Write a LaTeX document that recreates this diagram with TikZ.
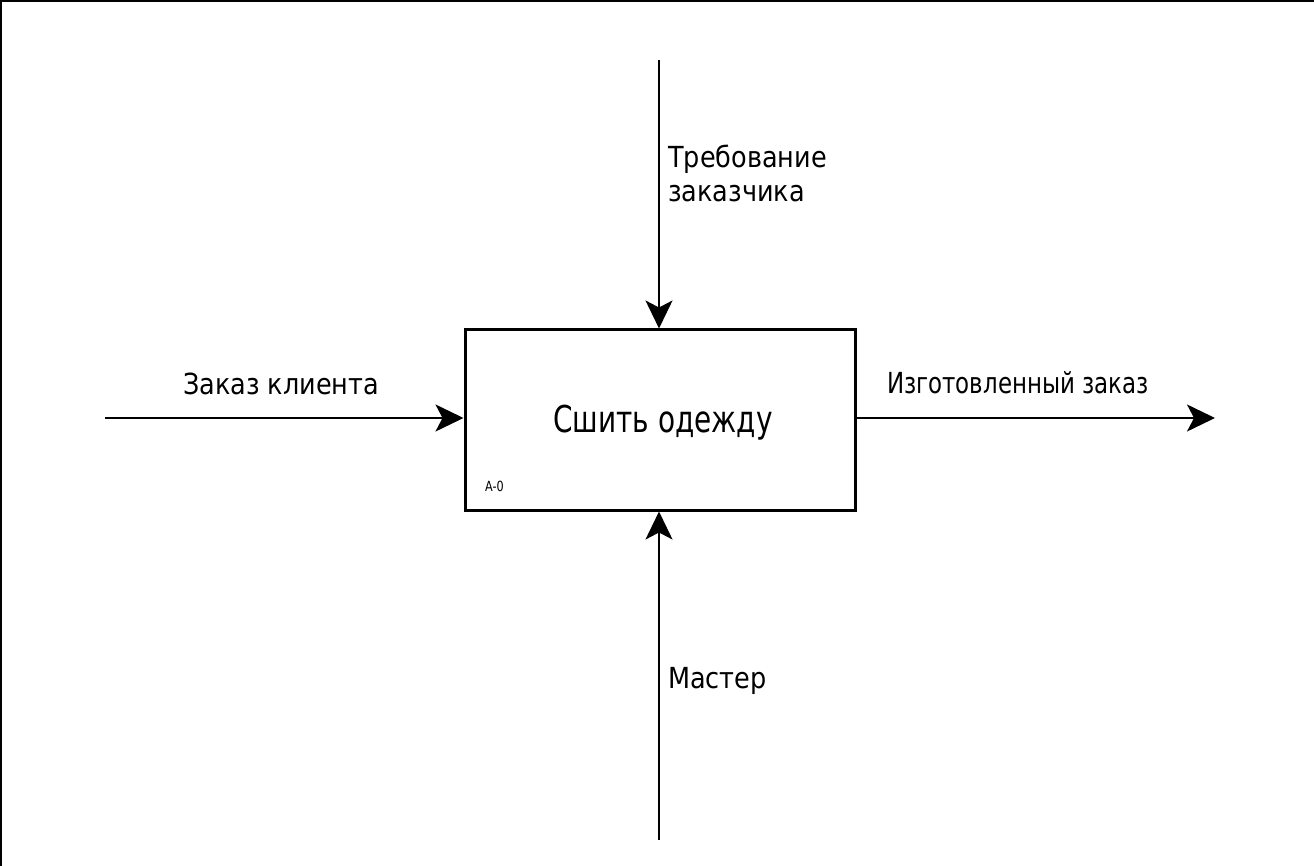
\documentclass[tikz,border=0pt]{standalone}
\usepackage{fontspec}
\usepackage{graphicx}
\setmainfont{DejaVu Sans}
\usetikzlibrary{arrows.meta}
\newcommand{\lblfont}{\fontsize{29}{34}\selectfont}
\begin{document}
\begin{tikzpicture}[x=1pt,y=-1pt,
  lbl/.style={inner sep=0pt,anchor=base west},
  flow/.style={line width=2pt,-{Stealth[length=28pt,width=27pt,inset=7pt]}},
  func/.style={draw,line width=3pt,minimum width=390pt,minimum height=180pt,inner sep=0pt}]
\useasboundingbox (0,0) rectangle (1314,866);
\fill[white] (0,0) rectangle (1314,866);
\draw[line width=4pt] (0,866) -- (0,0) -- (1314,0);
\node[func] (box) at (660,420) {};
\node[inner sep=0pt,anchor=base] (title) at (663,432) {\scalebox{0.755}[1]{\fontsize{37}{40}\selectfont Сшить одежду}};
\node[lbl] (code) at (485,491) {\scalebox{0.8}[1]{\fontsize{14}{16}\selectfont A-0}};
\coordinate (inS) at (105,418);
\coordinate (outE) at (1215,418);
\coordinate (ctlS) at (659,60);
\coordinate (mecS) at (659,840);
\draw[flow] (inS) -- (inS -| box.west);
\draw[flow] (outE -| box.east) -- (outE);
\draw[flow] (ctlS) -- (ctlS |- box.north);
\draw[flow] (mecS) -- (mecS |- box.south);
\node[lbl] (lin) at (183,395) {\scalebox{0.88}[1]{\lblfont Заказ клиента}};
\node[lbl] (lout) at (887,393) {\scalebox{0.79}[1]{\lblfont Изготовленный заказ}};
\node[lbl] (lctl1) at (668,168) {\scalebox{0.88}[1]{\lblfont Требование}};
\node[lbl] (lctl2) at (668,202) {\scalebox{0.88}[1]{\lblfont заказчика}};
\node[lbl] (lmec) at (668,688) {\scalebox{0.88}[1]{\lblfont Мастер}};
\end{tikzpicture}
\end{document}
